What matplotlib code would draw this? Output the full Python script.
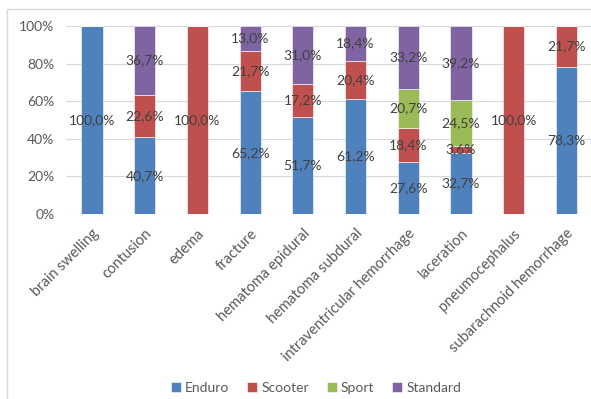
import matplotlib
matplotlib.use("Agg")
import matplotlib.pyplot as plt
from matplotlib.patches import Rectangle
import numpy as np

plt.rcParams['font.family'] = ['Lato', 'DejaVu Sans']

categories = ["brain swelling", "contusion", "edema", "fracture", "hematoma epidural",
              "hematoma subdural", "intraventricular hemorrhage", "laceration",
              "pneumocephalus", "subarachnoid hemorrhage"]
enduro   = [100.0, 40.7, 0.0, 65.2, 51.7, 61.2, 27.6, 32.7, 0.0, 78.3]
scooter  = [0.0, 22.6, 100.0, 21.7, 17.2, 20.4, 18.4, 3.6, 100.0, 21.7]
sport    = [0.0, 0.0, 0.0, 0.0, 0.0, 0.0, 20.7, 24.5, 0.0, 0.0]
standard = [0.0, 36.7, 0.0, 13.0, 31.0, 18.4, 33.2, 39.2, 0.0, 0.0]
series_names = ["Enduro", "Scooter", "Sport", "Standard"]
colors = ["#4F81BD", "#C0504D", "#9BBB59", "#8064A2"]
yticks = [0, 20, 40, 60, 80, 100]

text_color = "#595959"
fs = 10
fig = plt.figure(figsize=(5.91, 3.99), dpi=100)
fig.patches.append(Rectangle((7 / 591, -0.1), 1.2, 1 - 9 / 399 + 0.1,
                             transform=fig.transFigure, fill=False,
                             edgecolor="#D9D9D9", linewidth=1.0, zorder=0))

ax = fig.add_axes([0.111, 0.4637, 0.892, 0.4711])
x = np.arange(len(categories))
bottom = np.zeros(len(categories))
for name, vals, col in zip(series_names, [enduro, scooter, sport, standard], colors):
    vals = np.array(vals)
    ax.bar(x, vals, width=0.4, bottom=bottom, color=col, label=name,
           edgecolor="#FFFFFF", linewidth=0.4, zorder=3)
    for xi, b, v in zip(x, bottom, vals):
        if v > 0:
            ax.text(xi, b + v / 2, f"{v:.1f}%".replace(".", ","), ha="center",
                    va="center", fontsize=fs, color="#404040", zorder=4)
    bottom += vals

ax.set_xlim(-0.5, len(categories) - 0.5)
ax.set_ylim(0, 100)
ax.set_yticks(yticks)
ax.set_yticklabels([f"{t}%" for t in yticks])
ax.yaxis.grid(True, color="#D9D9D9", linewidth=0.8, zorder=0)
ax.set_axisbelow(True)
for s in ax.spines.values():
    s.set_visible(False)
ax.tick_params(axis="both", length=0, colors=text_color, labelsize=fs)
ax.tick_params(axis="y", pad=8)
ax.set_xticks(x)
ax.set_xticklabels(categories, rotation=45, ha="right", rotation_mode="anchor",
                   fontsize=10.5)
ax.tick_params(axis="x", pad=9)

leg = fig.legend(loc="center", bbox_to_anchor=(0.535, 0.028), ncol=4, frameon=False,
                 fontsize=fs, handlelength=0.7, handleheight=0.7,
                 handletextpad=0.3, columnspacing=1.3)
for t in leg.get_texts():
    t.set_color(text_color)

fig.savefig("out.png", dpi=100)
